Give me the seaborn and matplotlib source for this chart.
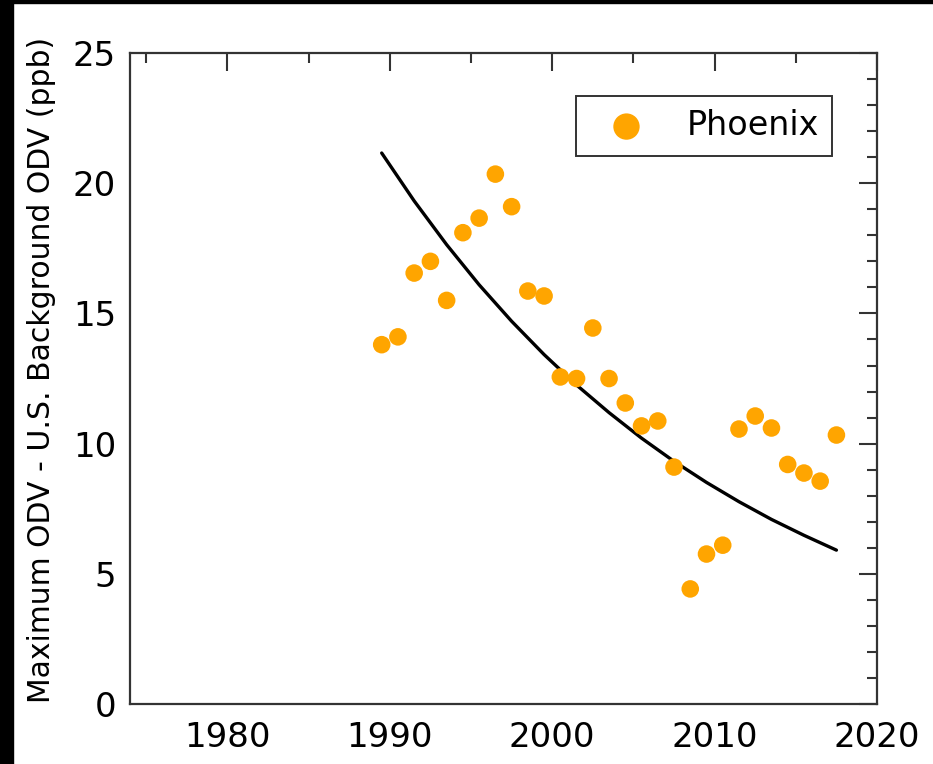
import numpy as np
import pandas as pd
import matplotlib
matplotlib.use("Agg")
import matplotlib.pyplot as plt
import seaborn as sns
from matplotlib.ticker import MultipleLocator
from matplotlib.patches import Rectangle

# ---- data ----
years = [1989.5, 1990.5, 1991.5, 1992.5, 1993.5, 1994.5, 1995.5, 1996.5, 1997.5,
         1998.5, 1999.5, 2000.5, 2001.5, 2002.5, 2003.5, 2004.5, 2005.5, 2006.5,
         2007.5, 2008.5, 2009.5, 2010.5, 2011.5, 2012.5, 2013.5, 2014.5, 2015.5,
         2016.5, 2017.5]
phoenix = [13.8, 14.1, 16.55, 17.0, 15.5, 18.1, 18.66, 20.35, 19.1,
           15.86, 15.67, 12.56, 12.5, 14.44, 12.5, 11.56, 10.68, 10.87,
           9.1, 4.42, 5.76, 6.1, 10.56, 11.06, 10.6, 9.2, 8.87,
           8.56, 10.33]
fit_years = [1989.5, 1991.5, 1993.5, 1995.5, 1997.5, 1999.5, 2001.5, 2003.5,
             2005.5, 2007.5, 2009.5, 2011.5, 2013.5, 2015.5, 2017.5]
fit_values = [21.16, 19.32, 17.64, 16.10, 14.70, 13.42, 12.25, 11.19,
              10.21, 9.32, 8.51, 7.77, 7.09, 6.48, 5.91]
x_ticks = [1980, 1990, 2000, 2010, 2020]
y_ticks = [0, 5, 10, 15, 20, 25]
series_name = "Phoenix"
y_label = "Maximum ODV - U.S. Background ODV (ppb)"

sns.set_theme(style="white")
plt.rcParams['font.family'] = ['DejaVu Sans']

fig = plt.figure(figsize=(9.33, 7.64), dpi=100)
ax = fig.add_axes([0.1393, 0.0785, 0.8007, 0.8521])

df = pd.DataFrame({"year": years, "value": phoenix})
fit = pd.DataFrame({"year": fit_years, "value": fit_values})

sns.lineplot(data=fit, x="year", y="value", ax=ax, color="black", lw=2.4,
             legend=False, zorder=2)
sns.scatterplot(data=df, x="year", y="value", ax=ax, color="#FFA500", s=160,
                edgecolor="none", label=series_name, zorder=3)

ax.set_xlim(1974, 2020)
ax.set_ylim(0, 25)
ax.set_xticks(x_ticks)
ax.set_yticks(y_ticks)
ax.xaxis.set_minor_locator(MultipleLocator(5))
ax.yaxis.set_minor_locator(MultipleLocator(1))

ax.tick_params(which="both", direction="in", top=True, right=True,
               colors="#333333", labelcolor="black", width=1.5)
ax.tick_params(which="major", length=13, labelsize=24.5)
ax.tick_params(which="minor", length=7)
ax.tick_params(axis="x", which="major", pad=12)
ax.tick_params(axis="y", which="major", pad=10)
for sp in ax.spines.values():
    sp.set_visible(True)
    sp.set_color("#333333")
    sp.set_linewidth(1.6)

ax.set_xlabel("")
ax.set_ylabel(y_label, fontsize=21.5, color="black")
ax.yaxis.set_label_coords(-0.099, 0.513)

leg = ax.legend(loc="upper right", bbox_to_anchor=(0.94, 0.934), fontsize=24,
                frameon=True, fancybox=False, edgecolor="black",
                borderaxespad=0, borderpad=0.4, handlelength=2.2,
                handletextpad=0.7, markerscale=1.5)
leg.get_frame().set_linewidth(1.4)
for t in leg.get_texts():
    t.set_color("black")

# black border strips at the left and top edges of the picture
fig.patches.append(Rectangle((0, 0), 13 / 933, 1, transform=fig.transFigure,
                             color="black", zorder=10))
fig.patches.append(Rectangle((0, 1 - 3 / 764), 1, 3 / 764, transform=fig.transFigure,
                             color="black", zorder=10))

fig.savefig("out.png", dpi=100)
